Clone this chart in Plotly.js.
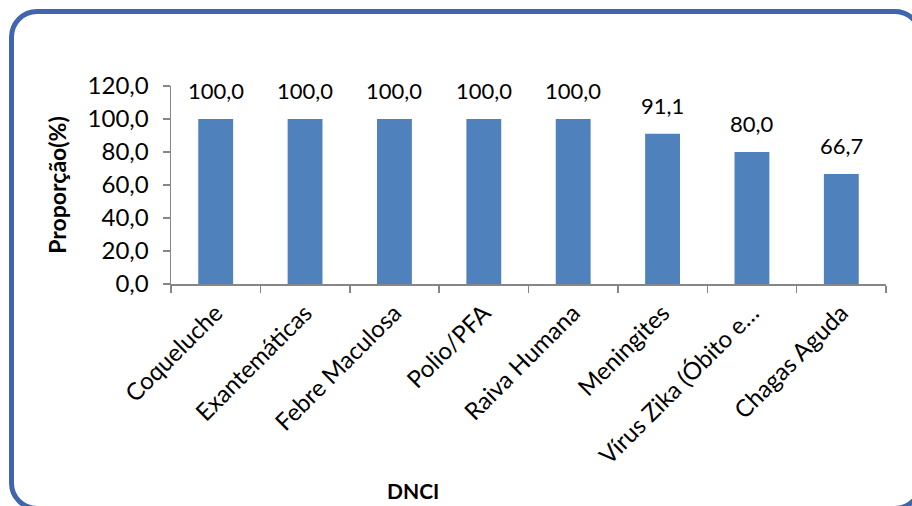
<!DOCTYPE html>
<html>
<head>
<meta charset="utf-8">
<script src="https://cdn.plot.ly/plotly-3.0.1.min.js"></script>
<style>
  html, body { margin: 0; padding: 0; background: #ffffff; overflow: hidden; }
  #wrap { position: relative; width: 912px; height: 506px; }
  #chart { position: absolute; left: 0; top: 0; width: 912px; height: 506px; }
  #frame { position: absolute; left: 9px; top: 9px; width: 914px; height: 502px;
           box-sizing: border-box; border: 5px solid #3F65AD; border-radius: 28px;
           pointer-events: none; }
</style>
</head>
<body>
<div id="wrap">
  <div id="chart"></div>
  <div id="frame"></div>
</div>
<script>
const categories = ["Coqueluche", "Exantemáticas", "Febre Maculosa", "Polio/PFA", "Raiva Humana", "Meningites", "Vírus Zika (Óbito e…", "Chagas Aguda"];
const values = [100.0, 100.0, 100.0, 100.0, 100.0, 91.1, 80.0, 66.7];
const yTickValues = [0, 20, 40, 60, 80, 100, 120];

const font = "Lato, 'Open Sans', sans-serif";

const trace = {
  type: "bar",
  x: categories,
  y: values,
  marker: { color: "#4F81BD" },
  hoverinfo: "none"
};

const annotations = categories.map((c, i) => ({
  x: c, y: values[i], xref: "x", yref: "y",
  text: values[i].toFixed(1).replace(".", ","),
  showarrow: false, yanchor: "bottom", yshift: 13,
  font: { family: font, size: 22, color: "#000000" }
}));
annotations.push({
  x: (413 - 171) / (886 - 171), y: -(490 - 284) / (284 - 86),
  xref: "paper", yref: "paper", text: "<b>DNCI</b>", showarrow: false,
  yanchor: "middle", xanchor: "center",
  font: { family: font, size: 21, color: "#000000" }
});

const layout = {
  width: 912, height: 506,
  margin: { l: 171, r: 26, t: 86, b: 222 },
  paper_bgcolor: "#ffffff", plot_bgcolor: "#ffffff",
  separators: ",.",
  bargap: 0.61,
  showlegend: false,
  xaxis: {
    type: "category",
    showline: true, linecolor: "#868686", linewidth: 1.5,
    ticks: "outside", tickson: "boundaries", ticklen: 7, tickcolor: "#868686", tickwidth: 1.5,
    tickangle: -45,
    ticklabelstandoff: 4,
    tickfont: { family: font, size: 24, color: "#000000" },
    showgrid: false, zeroline: false, fixedrange: true
  },
  yaxis: {
    range: [0, 120],
    tickvals: yTickValues,
    tickformat: ".1f",
    showline: true, linecolor: "#868686", linewidth: 1.5,
    ticks: "outside", ticklen: 7, tickcolor: "#868686", tickwidth: 1.5,
    ticklabelstandoff: 9,
    tickfont: { family: font, size: 24, color: "#000000" },
    showgrid: false, zeroline: false, fixedrange: true,
    title: { text: "<b>Proporção(%)</b>", font: { family: font, size: 23, color: "#000000" }, standoff: 14 }
  },
  annotations: annotations
};

Plotly.newPlot("chart", [trace], layout, { displayModeBar: false, staticPlot: true });
</script>
</body>
</html>
